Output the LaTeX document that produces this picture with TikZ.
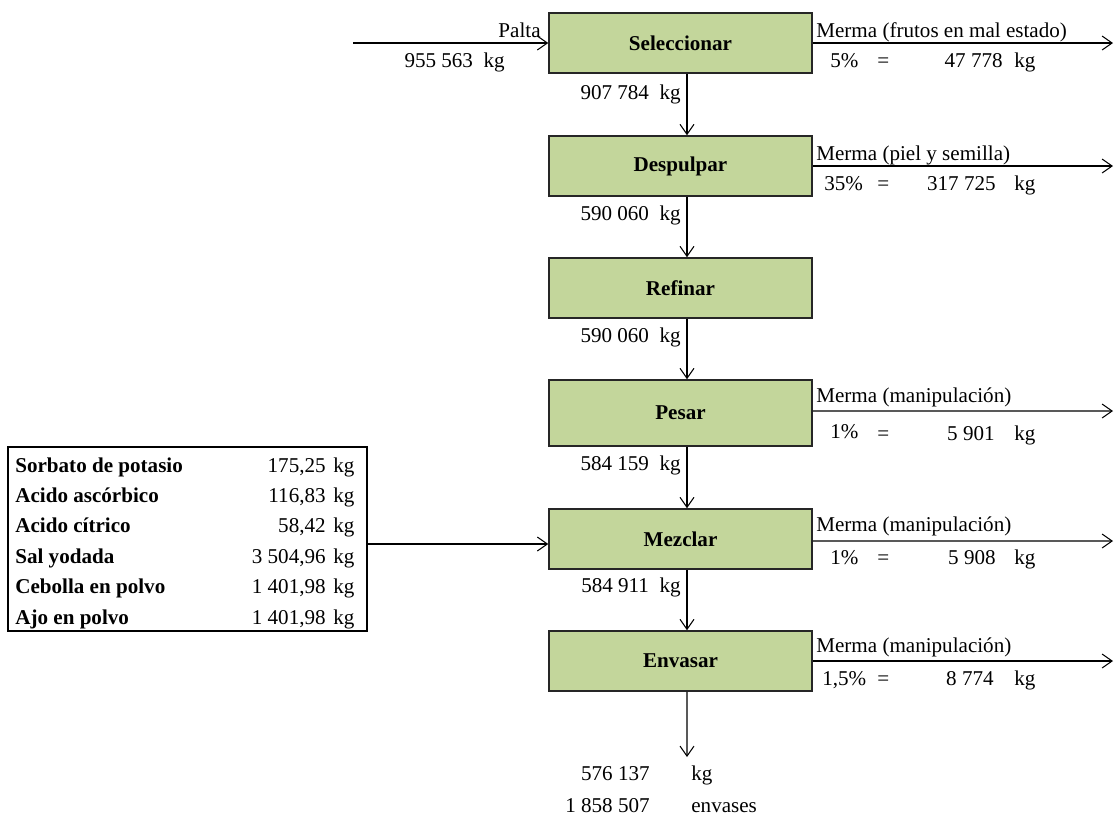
\documentclass[tikz,border=0pt]{standalone}
\usepackage{fontspec}
\setmainfont{Liberation Serif}
\usetikzlibrary{arrows.meta}

\definecolor{verdeproc}{RGB}{195,214,155}

\begin{document}
\begin{tikzpicture}[x=0.02cm, y=-0.02cm, font=\fontsize{12}{14}\selectfont,
  proceso/.style={draw=black!85, line width=0.9pt, fill=verdeproc, minimum width=5.26cm, minimum height=1.2cm, font=\fontsize{12}{14}\selectfont\bfseries},
  flujo/.style={-{Straight Barb[length=2mm,width=2.8mm]}, line width=0.6pt},
  izq/.style={anchor=base west, inner sep=0pt},
  der/.style={anchor=base east, inner sep=0pt}]
\useasboundingbox (0,0) rectangle (1117,816);

% etapas
\node[proceso] (sel) at (680.5,43) {Seleccionar};
\node[proceso] (desp) at (680.5,166) {Despulpar};
\node[proceso] (ref) at (680.5,288) {Refinar};
\node[proceso, minimum height=1.32cm] (pes) at (680.5,413) {Pesar};
\node[proceso] (mez) at (680.5,539) {Mezclar};
\node[proceso] (env) at (680.5,661) {Envasar};

% flujo principal
\coordinate (ent) at (353,43);
\coordinate (salida) at (687,757);
\draw[flujo] (ent) -- (sel.west);
\draw[flujo] ([xshift=0.13cm]sel.south) -- ([xshift=0.13cm]desp.north);
\draw[flujo] ([xshift=0.13cm]desp.south) -- ([xshift=0.13cm]ref.north);
\draw[flujo] ([xshift=0.13cm]ref.south) -- ([xshift=0.13cm]pes.north);
\draw[flujo] ([xshift=0.13cm]pes.south) -- ([xshift=0.13cm]mez.north);
\draw[flujo] ([xshift=0.13cm]mez.south) -- ([xshift=0.13cm]env.north);
\draw[flujo] ([xshift=0.13cm]env.south) -- (salida);

\node[der] (palta) at (541,37) {Palta};
\node[der] (kgent) at (505,67) {955 563~~kg};
\node[der] (kg1) at (681,99) {907 784~~kg};
\node[der] (kg2) at (681,220) {590 060~~kg};
\node[der] (kg3) at (681,342) {590 060~~kg};
\node[der] (kg4) at (681,470) {584 159~~kg};
\node[der] (kg5) at (681,592) {584 911~~kg};

% producto final
\node[der] (final) at (650,780) {576 137};
\node[izq] (finalu) at (691,780) {kg};
\node[der] (envases) at (650,812) {1 858 507};
\node[izq] (envasesu) at (691,812) {envases};

% mermas
\coordinate (m1) at (1113,43);
\coordinate (m2) at (1113,166);
\coordinate (m4) at (1113,411);
\coordinate (m5) at (1113,541);
\coordinate (m6) at (1113,661);
\draw[flujo] (sel.east) -- (m1);
\draw[flujo] (desp.east) -- (m2);
\draw[flujo] ([yshift=0.04cm]pes.east) -- (m4);
\draw[flujo] ([yshift=-0.04cm]mez.east) -- (m5);
\draw[flujo] (env.east) -- (m6);

\node[izq] (t1) at (816,37) {Merma (frutos en mal estado)};
\node[izq] (p1) at (830,67) {5\%};
\node[izq] (e1) at (877,67) {=};
\node[der] (v1) at (1003,67) {47 778};
\node[izq] (u1) at (1014,67) {kg};

\node[izq] (t2) at (816,160) {Merma (piel y semilla)};
\node[izq] (p2) at (824,190) {35\%};
\node[izq] (e2) at (877,190) {=};
\node[der] (v2) at (996,190) {317 725};
\node[izq] (u2) at (1014,190) {kg};

\node[izq] (t4) at (816,402) {Merma (manipulación)};
\node[izq] (p4) at (830,438) {1\%};
\node[izq] (e4) at (877,440) {=};
\node[der] (v4) at (995,440) {5 901};
\node[izq] (u4) at (1014,440) {kg};

\node[izq] (t5) at (816,531) {Merma (manipulación)};
\node[izq] (p5) at (830,564) {1\%};
\node[izq] (e5) at (877,564) {=};
\node[der] (v5) at (996,564) {5 908};
\node[izq] (u5) at (1014,564) {kg};

\node[izq] (t6) at (816,652) {Merma (manipulación)};
\node[izq] (p6) at (822,685) {1,5\%};
\node[izq] (e6) at (877,685) {=};
\node[der] (v6) at (994,685) {8 774};
\node[izq] (u6) at (1014,685) {kg};

% insumos
\node[draw, line width=0.9pt, minimum width=7.18cm, minimum height=3.68cm] (insumos) at (187.5,539) {};
\draw[flujo] ([yshift=-0.1cm]insumos.east) -- ([yshift=-0.1cm]mez.west);

\node[izq, font=\fontsize{12}{14}\selectfont\bfseries] (a1) at (15,472) {Sorbato de potasio};
\node[der] (b1) at (326,472) {175,25};
\node[izq] (c1) at (333,472) {kg};
\node[izq, font=\fontsize{12}{14}\selectfont\bfseries] (a2) at (15,502) {Acido ascórbico};
\node[der] (b2) at (326,502) {116,83};
\node[izq] (c2) at (333,502) {kg};
\node[izq, font=\fontsize{12}{14}\selectfont\bfseries] (a3) at (15,532) {Acido cítrico};
\node[der] (b3) at (326,532) {58,42};
\node[izq] (c3) at (333,532) {kg};
\node[izq, font=\fontsize{12}{14}\selectfont\bfseries] (a4) at (15,563) {Sal yodada};
\node[der] (b4) at (326,563) {3 504,96};
\node[izq] (c4) at (333,563) {kg};
\node[izq, font=\fontsize{12}{14}\selectfont\bfseries] (a5) at (15,593) {Cebolla en polvo};
\node[der] (b5) at (326,593) {1 401,98};
\node[izq] (c5) at (333,593) {kg};
\node[izq, font=\fontsize{12}{14}\selectfont\bfseries] (a6) at (15,624) {Ajo en polvo};
\node[der] (b6) at (326,624) {1 401,98};
\node[izq] (c6) at (333,624) {kg};
\end{tikzpicture}
\end{document}
